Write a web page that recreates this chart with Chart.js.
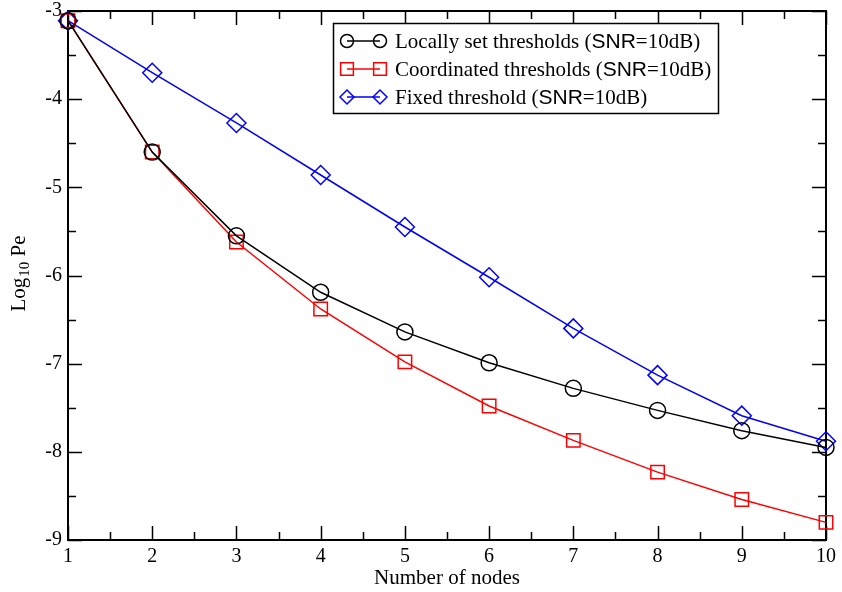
<!DOCTYPE html>
<html>
<head>
<meta charset="utf-8">
<script src="https://cdn.jsdelivr.net/npm/chart.js@4/dist/chart.umd.min.js"></script>
<style>
  html, body { margin: 0; padding: 0; background: #fff; }
  #chart { display: block; }
</style>
</head>
<body>
<canvas id="chart" width="842" height="592"></canvas>
<script>
const nodes = [1, 2, 3, 4, 5, 6, 7, 8, 9, 10];
const locally_set = [-3.11, -4.60, -5.55, -6.19, -6.64, -6.99, -7.28, -7.53, -7.76, -7.95];
const coordinated = [-3.11, -4.60, -5.62, -6.38, -6.98, -7.48, -7.87, -8.23, -8.54, -8.80];
const fixed_thr = [-3.11, -3.70, -4.27, -4.86, -5.45, -6.02, -6.60, -7.13, -7.59, -7.88];
const series_labels = ["Locally set thresholds", "Coordinated thresholds", "Fixed threshold"];
const series_colours = ["#000000", "#ff0000", "#0000ff"];
const series_styles = ["circle", "rect", "rectRot"];
const series_radius = [8, 9.5, 9.5];
const legend_radius = [6.5, 9, 7];

const serif = "'Liberation Serif', 'Times New Roman', serif";
const sans = "'Liberation Sans', Arial, sans-serif";

function toPoints(ys) {
  return nodes.map((x, i) => ({ x: x, y: ys[i] }));
}

// frame, inward ticks on all four sides, y title and the legend box
const framePlugin = {
  id: "frame",
  beforeDatasetsDraw(chart) {
    const { ctx, chartArea: a, scales } = chart;
    ctx.save();
    ctx.strokeStyle = "#000";
    ctx.lineWidth = 1.5;
    for (let v = 1; v <= 10; v += 0.5) {
      const px = Math.round(scales.x.getPixelForValue(v)) + 0.5;
      const len = Number.isInteger(v) ? 14 : 8;
      ctx.beginPath();
      ctx.moveTo(px, a.bottom); ctx.lineTo(px, a.bottom - len);
      ctx.moveTo(px, a.top); ctx.lineTo(px, a.top + len);
      ctx.stroke();
    }
    for (let v = -9; v <= -3; v += 0.5) {
      const py = Math.round(scales.y.getPixelForValue(v)) + 0.5;
      const len = Number.isInteger(v) ? 14 : 8;
      ctx.beginPath();
      ctx.moveTo(a.left, py); ctx.lineTo(a.left + len, py);
      ctx.moveTo(a.right, py); ctx.lineTo(a.right - len, py);
      ctx.stroke();
    }
    ctx.lineWidth = 2;
    ctx.strokeRect(a.left, a.top, a.right - a.left, a.bottom - a.top);

    // y axis title: Log10 Pe
    ctx.translate(19, 274);
    ctx.rotate(-Math.PI / 2);
    ctx.fillStyle = "#000";
    ctx.textBaseline = "middle";
    const big = "21px " + serif, small = "15px " + serif;
    ctx.font = big; const w1 = ctx.measureText("Log").width;
    ctx.font = small; const w2 = ctx.measureText("10").width;
    ctx.font = big; const w3 = ctx.measureText(" Pe").width;
    let x0 = -(w1 + w2 + w3) / 2;
    ctx.textAlign = "left";
    ctx.font = big; ctx.fillText("Log", x0, 0);
    ctx.font = small; ctx.fillText("10", x0 + w1 + 1, 6);
    ctx.font = big; ctx.fillText(" Pe", x0 + w1 + w2 + 1, 0);
    ctx.restore();
  },
  afterDraw(chart) {
    const { ctx } = chart;
    ctx.save();
    const bx = 333, by = 23, bw = 385, bh = 90;
    ctx.fillStyle = "#fff";
    ctx.fillRect(bx, by, bw, bh);
    ctx.strokeStyle = "#000";
    ctx.lineWidth = 1.5;
    ctx.strokeRect(bx + 0.5, by + 0.5, bw, bh);
    const rows = [41, 69, 97];
    for (let i = 0; i < 3; i++) {
      const y = rows[i];
      ctx.strokeStyle = series_colours[i];
      ctx.lineWidth = 1.5;
      ctx.beginPath();
      ctx.moveTo(347, y); ctx.lineTo(380, y);
      ctx.stroke();
      ctx.fillStyle = "rgba(0,0,0,0)";
      [347, 380].forEach(px => {
        Chart.helpers.drawPoint(ctx, {
          pointStyle: series_styles[i],
          radius: legend_radius[i],
          borderWidth: 1.5
        }, px, y);
      });
      ctx.fillStyle = "#000";
      ctx.textBaseline = "middle";
      ctx.textAlign = "left";
      let x = 395;
      const parts = [[series_labels[i] + " (", serif], ["SNR", sans], ["=10dB)", serif]];
      parts.forEach(([t, f]) => {
        ctx.font = "21px " + f;
        ctx.fillText(t, x, y + 1);
        x += ctx.measureText(t).width;
      });
    }
    ctx.restore();
  }
};

const datasets = [locally_set, coordinated, fixed_thr].map((ys, i) => ({
  label: series_labels[i],
  data: toPoints(ys),
  borderColor: series_colours[i],
  backgroundColor: "transparent",
  pointBorderColor: series_colours[i],
  pointBackgroundColor: "transparent",
  pointStyle: series_styles[i],
  pointRadius: series_radius[i],
  pointBorderWidth: 1.5,
  borderWidth: 1.5,
  tension: 0,
  clip: false
}));

new Chart(document.getElementById("chart").getContext("2d"), {
  type: "line",
  data: { datasets: datasets },
  options: {
    responsive: false,
    animation: false,
    layout: { padding: { top: 8, right: 16, left: 0, bottom: 0 } },
    plugins: {
      legend: { display: false },
      tooltip: { enabled: false }
    },
    scales: {
      x: {
        type: "linear",
        min: 1,
        max: 10,
        grid: { display: false, drawTicks: false },
        border: { display: false },
        ticks: {
          stepSize: 1,
          padding: 5,
          color: "#000",
          font: { family: serif, size: 20 },
          maxRotation: 0
        },
        title: {
          display: true,
          text: "Number of nodes",
          color: "#000",
          font: { family: serif, size: 21 },
          padding: { top: 0, bottom: 1 }
        },
        afterFit(scale) { scale.height = 52; }
      },
      y: {
        type: "linear",
        min: -9,
        max: -3,
        grid: { display: false, drawTicks: false },
        border: { display: false },
        ticks: {
          stepSize: 1,
          padding: 6,
          color: "#000",
          font: { family: serif, size: 20 }
        },
        afterFit(scale) {
          scale.width = 68;
          scale.paddingTop = 0;
          scale.paddingBottom = 0;
        }
      }
    }
  },
  plugins: [framePlugin]
});
</script>
</body>
</html>
